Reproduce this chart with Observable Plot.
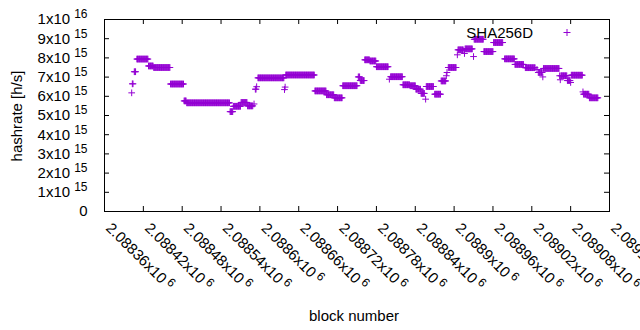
<!DOCTYPE html>
<html><head><meta charset="utf-8">
<script src="https://cdn.jsdelivr.net/npm/d3@7"></script>
<script src="https://cdn.jsdelivr.net/npm/@observablehq/plot@0.6"></script>
<style>
html,body{margin:0;padding:0;background:#fff;}
#chart{position:relative;width:640px;height:330px;}
</style></head><body><div id="chart"></div>
<script>
// Runs of consecutive blocks sharing the same hashrate estimate
const runFirstBlock = [2088402,2088403,2088406,2088410,2088428,2088436,2088462,2088483,2088487,2088554,2088559,2088571,2088581,2088591,2088593,2088595,2088597,2088638,2088639,2088640,2088685,2088703,2088715,2088728,2088752,2088755,2088762,2088770,2088780,2088800,2088802,2088821,2088832,2088841,2088849,2088856,2088857,2088870,2088880,2088888,2088889,2088891,2088905,2088906,2088916,2088917,2088930,2088931,2088946,2088961,2088978,2088994,2089010,2089028,2089030,2089037,2089038,2089063,2089064,2089065,2089075,2089080,2089081,2089099,2089100,2089109];
const runLastBlock  = [2088402,2088404,2088408,2088427,2088435,2088461,2088482,2088486,2088553,2088558,2088570,2088580,2088589,2088591,2088594,2088595,2088637,2088638,2088639,2088684,2088702,2088714,2088727,2088750,2088754,2088761,2088769,2088779,2088798,2088800,2088820,2088831,2088840,2088848,2088854,2088856,2088868,2088879,2088887,2088888,2088889,2088903,2088905,2088914,2088916,2088928,2088930,2088945,2088960,2088975,2088993,2089007,2089025,2089028,2089036,2089037,2089062,2089063,2089064,2089074,2089079,2089080,2089098,2089099,2089108,2089122];
const runHashrate   = [6.18,6.65,7.28,7.94,7.58,7.50,6.64,5.76,5.66,5.20,5.48,5.68,5.50,5.60,6.37,6.50,6.96,6.35,6.48,7.11,6.28,6.08,5.92,6.55,7.01,6.82,7.90,7.84,7.54,6.89,7.02,6.60,6.55,6.37,6.15,5.85,6.51,6.11,6.80,7.07,7.24,7.50,8.16,8.42,8.23,8.47,8.07,8.97,8.33,8.80,7.95,7.66,7.49,7.40,7.24,7.01,7.45,7.07,6.86,7.07,6.82,6.72,7.10,6.23,6.11,5.92]; // x10^15 h/s

const xTicks = [2088360,2088420,2088480,2088540,2088600,2088660,2088720,2088780,2088840,2088900,2088960,2089020,2089080,2089140];
const yTicks = [0,1e15,2e15,3e15,4e15,5e15,6e15,7e15,8e15,9e15,1e16];
const seriesName = "SHA256D";
const xTitle = "block number";
const yTitle = "hashrate [h/s]";
const color = "#9400d3";

const points = [];
runFirstBlock.forEach((b0, i) => {
  for (let b = b0; b <= runLastBlock[i]; b++) points.push({block: b, hashrate: runHashrate[i] * 1e15});
});

const expOf = v => Math.floor(Math.log10(v) + 1e-9);
const xTickLabel = v => String(+(v / 1e6).toFixed(6)) + "x10";
const yTickLabel = v => v === 0 ? "0" : String(Math.round(v / 10 ** expOf(v))) + "x10";

const plot = Plot.plot({
  width: 640, height: 330,
  marginLeft: 104, marginRight: 31, marginTop: 19, marginBottom: 119,
  style: {fontFamily: "'Liberation Sans', Arial, sans-serif", fontSize: "15px", background: "#fff", color: "#000"},
  x: {domain: [2088360, 2089140]},
  y: {domain: [0, 1e16]},
  marks: [
    Plot.dot(points, {x: "block", y: "hashrate", symbol: "plus", r: 2.3, stroke: color, strokeWidth: 1}),
    Plot.frame({stroke: "#000"}),
    Plot.ruleX(xTicks, {insetTop: 187, stroke: "#000"}),
    Plot.ruleX(xTicks, {insetBottom: 187, stroke: "#000"}),
    Plot.ruleY(yTicks, {insetRight: 500, stroke: "#000"}),
    Plot.ruleY(yTicks, {insetLeft: 500, stroke: "#000"}),
    Plot.axisX(xTicks, {tickSize: 0, tickPadding: 14, dx: 4, tickRotate: 45, textAnchor: "start", lineAnchor: "middle", tickFormat: xTickLabel, label: null}),
    Plot.axisY(yTicks, {tickSize: 0, tickPadding: 17, tickFormat: yTickLabel, label: null})
  ]
});
document.getElementById("chart").appendChild(plot);

const svg = d3.select(plot);
svg.selectAll('g[aria-label="x-axis tick label"] text').each(function(d) {
  d3.select(this).append("tspan").attr("dx", 3).attr("dy", -5).attr("font-size", 12).text(String(expOf(xTicks[0])));
});
svg.selectAll('g[aria-label="y-axis tick label"] text').each(function(d) {
  const v = yTicks[d];
  if (v) d3.select(this).append("tspan").attr("dx", 4).attr("dy", -6).attr("font-size", 12).text(String(expOf(v)));
});
svg.append("text").attr("x", 354).attr("y", 315).attr("text-anchor", "middle").attr("dominant-baseline", "central")
  .attr("font-size", 15).text(xTitle);
svg.append("text").attr("transform", "translate(16,116) rotate(-90)").attr("text-anchor", "middle").attr("dominant-baseline", "central")
  .attr("font-size", 15).text(yTitle);
const key = svg.append("g").attr("aria-label", "legend");
key.append("text").attr("x", 533).attr("y", 32).attr("text-anchor", "end").attr("dominant-baseline", "central")
  .attr("font-size", 15).text(seriesName);
key.append("path").attr("d", "M563.5,32.5h7M567,29v7").attr("stroke", color).attr("fill", "none");
</script></body></html>
